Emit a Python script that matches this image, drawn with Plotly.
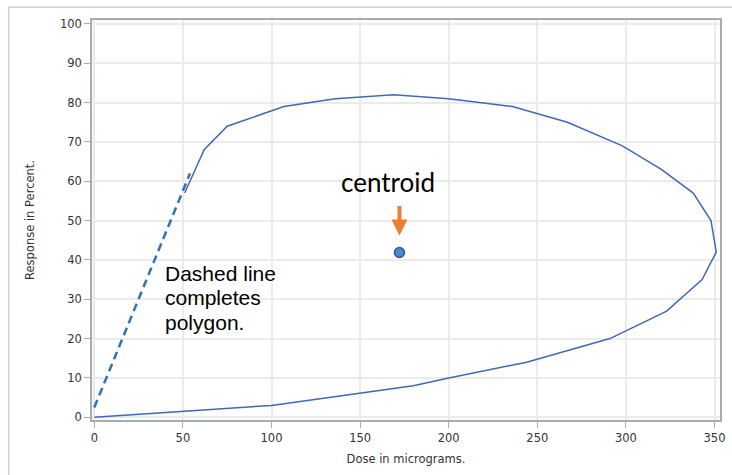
import plotly.graph_objects as go

# Polygon boundary (solid part)
dose = [51, 62, 75, 107, 136, 169, 200, 236, 267, 298, 320, 338, 348, 351,
        343, 323, 291, 244, 200, 180, 100, 0]
resp = [57, 68, 74, 79, 81, 82, 81, 79, 75, 69, 63, 57, 50, 42,
        35, 27, 20, 14, 10, 8, 3, 0]

# Dashed closing segment
close_dose = [0, 54]
close_resp = [2.5, 62]

# Centroid
cx = [172.2]
cy = [41.9]

x_ticks = [0, 50, 100, 150, 200, 250, 300, 350]
y_ticks = [0, 10, 20, 30, 40, 50, 60, 70, 80, 90, 100]

fig = go.Figure()
fig.add_trace(go.Scatter(x=dose, y=resp, mode="lines",
                         line=dict(color="#4068b8", width=1.5),
                         showlegend=False, hoverinfo="skip"))
fig.add_trace(go.Scatter(x=close_dose, y=close_resp, mode="lines",
                         line=dict(color="#2e72b8", width=2.5, dash="8px,5px"),
                         showlegend=False, hoverinfo="skip"))
fig.add_trace(go.Scatter(x=cx, y=cy, mode="markers",
                         marker=dict(size=10, color="#4f86c6",
                                     line=dict(color="#2a5b9a", width=1.5)),
                         showlegend=False))

tickfont = dict(family="DejaVu Sans", size=11.5, color="#333333")

fig.update_xaxes(range=[-1.3, 353.1], tickvals=x_ticks, ticks="outside", ticklen=6,
                 tickcolor="#a8acb0", tickfont=tickfont,
                 showgrid=True, gridcolor="#ebebeb", gridwidth=1.5,
                 showline=True, linecolor="#a8acb0", linewidth=1.5, mirror=True,
                 zeroline=False,
                 title=dict(text="Dose in micrograms.", standoff=11,
                            font=dict(family="DejaVu Sans", size=11.5, color="#333333")))
fig.update_yaxes(range=[-0.7, 101], tickvals=y_ticks, ticks="outside", ticklen=6,
                 tickcolor="#a8acb0", tickfont=tickfont,
                 showgrid=True, gridcolor="#ebebeb", gridwidth=1.5,
                 showline=True, linecolor="#a8acb0", linewidth=1.5, mirror=True,
                 zeroline=False,
                 title=dict(text="Response in Percent.", standoff=23,
                            font=dict(family="DejaVu Sans", size=11.5, color="#333333")))

# centroid label and arrow
fig.add_annotation(x=165.6, y=59.7, text="centroid", showarrow=False,
                   xanchor="center", yanchor="middle",
                   font=dict(family="Lato", size=26, color="#000000"))
fig.add_annotation(x=172.2, y=46.2, text="", showarrow=True, ax=0, ay=-31,
                   arrowcolor="#ed7d31", arrowwidth=4, arrowhead=2, arrowsize=0.8,
                   standoff=0)

note_lines = ["Dashed line", "completes", "polygon."]
note_y = [36.6, 30.4, 24.05]
for t, yy in zip(note_lines, note_y):
    fig.add_annotation(x=38.6, y=yy, text=t, showarrow=False,
                       xanchor="left", yanchor="middle",
                       font=dict(family="Liberation Sans", size=21, color="#000000"))

# outer graph border
fig.add_shape(type="rect", xref="paper", yref="paper",
              x0=-0.1327, x1=1.024, y0=-0.15, y1=1.0318,
              line=dict(color="#d0d0d0", width=1.5), layer="below")

fig.update_layout(width=732, height=475,
                  margin=dict(l=92, r=7, t=20, b=55),
                  paper_bgcolor="white", plot_bgcolor="white")

fig.write_html("out.html")
